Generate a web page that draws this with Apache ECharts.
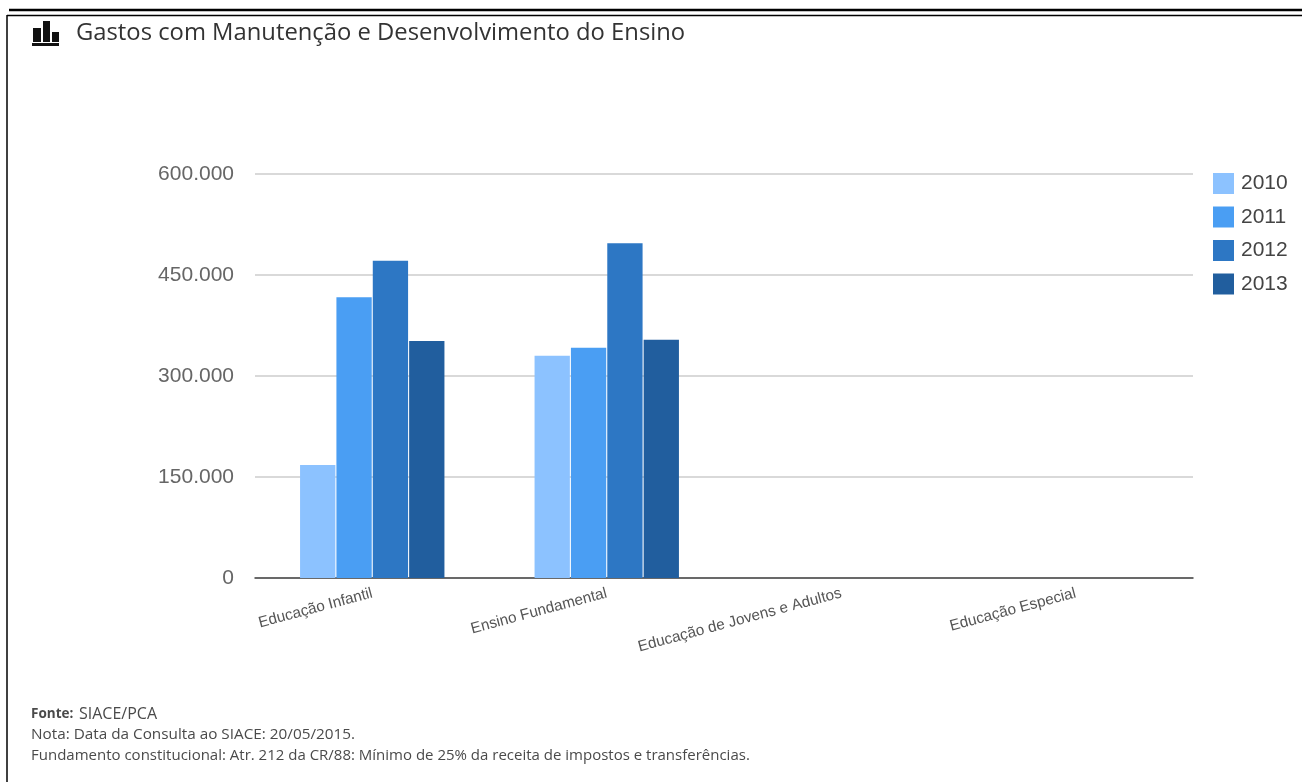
<!DOCTYPE html>
<html>
<head>
<meta charset="utf-8">
<style>
    html, body { margin: 0; padding: 0; background: #fff; }
    #chart { width: 1302px; height: 782px; }
</style>
<script src="https://cdn.jsdelivr.net/npm/echarts@6/dist/echarts.min.js"></script>
</head>
<body>
<div id="chart"></div>
<script>
    const categories = ['Educação Infantil', 'Ensino Fundamental', 'Educação de Jovens e Adultos', 'Educação Especial']
    const anos = ['2010', '2011', '2012', '2013']
    const cores = ['#8cc2ff', '#4a9ef3', '#2d77c4', '#215e9e']
    const v2010 = [168000, 330000, null, null]
    const v2011 = [417000, 342000, null, null]
    const v2012 = [471000, 497000, null, null]
    const v2013 = [352000, 354000, null, null]
    const titulo = 'Gastos com Manutenção e Desenvolvimento do Ensino'
    const nota = 'Nota: Data da Consulta ao SIACE: 20/05/2015.'
    const fundamento = 'Fundamento constitucional: Atr. 212 da CR/88: Mínimo de 25% da receita de impostos e transferências.'

    const valores = [v2010, v2011, v2012, v2013]
    const chart = echarts.init(document.getElementById('chart'))

    const linha = (x1, y1, x2, y2, lineWidth) => ({
        type: 'line',
        shape: { x1, y1, x2, y2 },
        style: { stroke: '#000', lineWidth }
    })
    const barra = (x, y, width, height) => ({
        type: 'rect',
        shape: { x, y, width, height },
        style: { fill: '#111' }
    })
    const rodape = (x, y, text, fontWeight, fontSize) => ({
        type: 'text',
        x,
        y,
        style: { text, fontFamily: 'Open Sans', fontSize: fontSize || 15, fontWeight: fontWeight || 'normal', fill: '#4a4a4a' }
    })

    chart.setOption({
        animation: false,
        title: {
            text: titulo,
            left: 71,
            top: 16,
            textStyle: { fontFamily: 'Open Sans', fontSize: 23.8, fontWeight: 'normal', color: '#333' }
        },
        legend: {
            orient: 'vertical',
            left: 1208,
            top: 168,
            itemWidth: 21,
            itemHeight: 21,
            itemGap: 12.5,
            icon: 'rect',
            textStyle: { fontFamily: 'Liberation Sans', fontSize: 21, color: '#444', padding: [3, 0, 0, 2] },
            data: anos
        },
        grid: { left: 255, right: 109, top: 174, bottom: 204 },
        xAxis: {
            type: 'category',
            data: categories,
            axisTick: { show: false },
            axisLine: { lineStyle: { color: '#444', width: 1.5 } },
            axisLabel: {
                interval: 0,
                rotate: 15,
                margin: 15,
                fontFamily: 'Liberation Sans',
                fontSize: 15.3,
                color: '#555'
            }
        },
        yAxis: {
            type: 'value',
            min: 0,
            max: 600000,
            interval: 150000,
            axisLine: { show: false },
            axisTick: { show: false },
            splitLine: { lineStyle: { color: '#ccc', width: 1.5 } },
            axisLabel: {
                margin: 21,
                fontFamily: 'Liberation Sans',
                fontSize: 21,
                color: '#666',
                formatter: (v) => v.toLocaleString('pt-BR')
            }
        },
        series: anos.map((ano, i) => ({
            name: ano,
            type: 'bar',
            data: valores[i],
            barWidth: 35.3,
            barGap: '3%',
            itemStyle: { color: cores[i] }
        })),
        graphic: [
            linha(9, 10, 1302, 10, 2.5),
            linha(7, 15.5, 1302, 15.5, 1.5),
            linha(7, 15, 7, 782, 1.5),
            barra(33, 28, 8, 14),
            barra(43, 21, 7, 21),
            barra(52, 32, 7, 10),
            barra(32, 43, 27, 3),
            rodape(31, 707, 'Fonte:', 'bold', 13.5),
            rodape(79, 706, 'SIACE/PCA', 'normal', 16),
            rodape(31, 727, nota, 'normal', 15.3),
            rodape(31, 748, fundamento)
        ]
    })
</script>
</body>
</html>
